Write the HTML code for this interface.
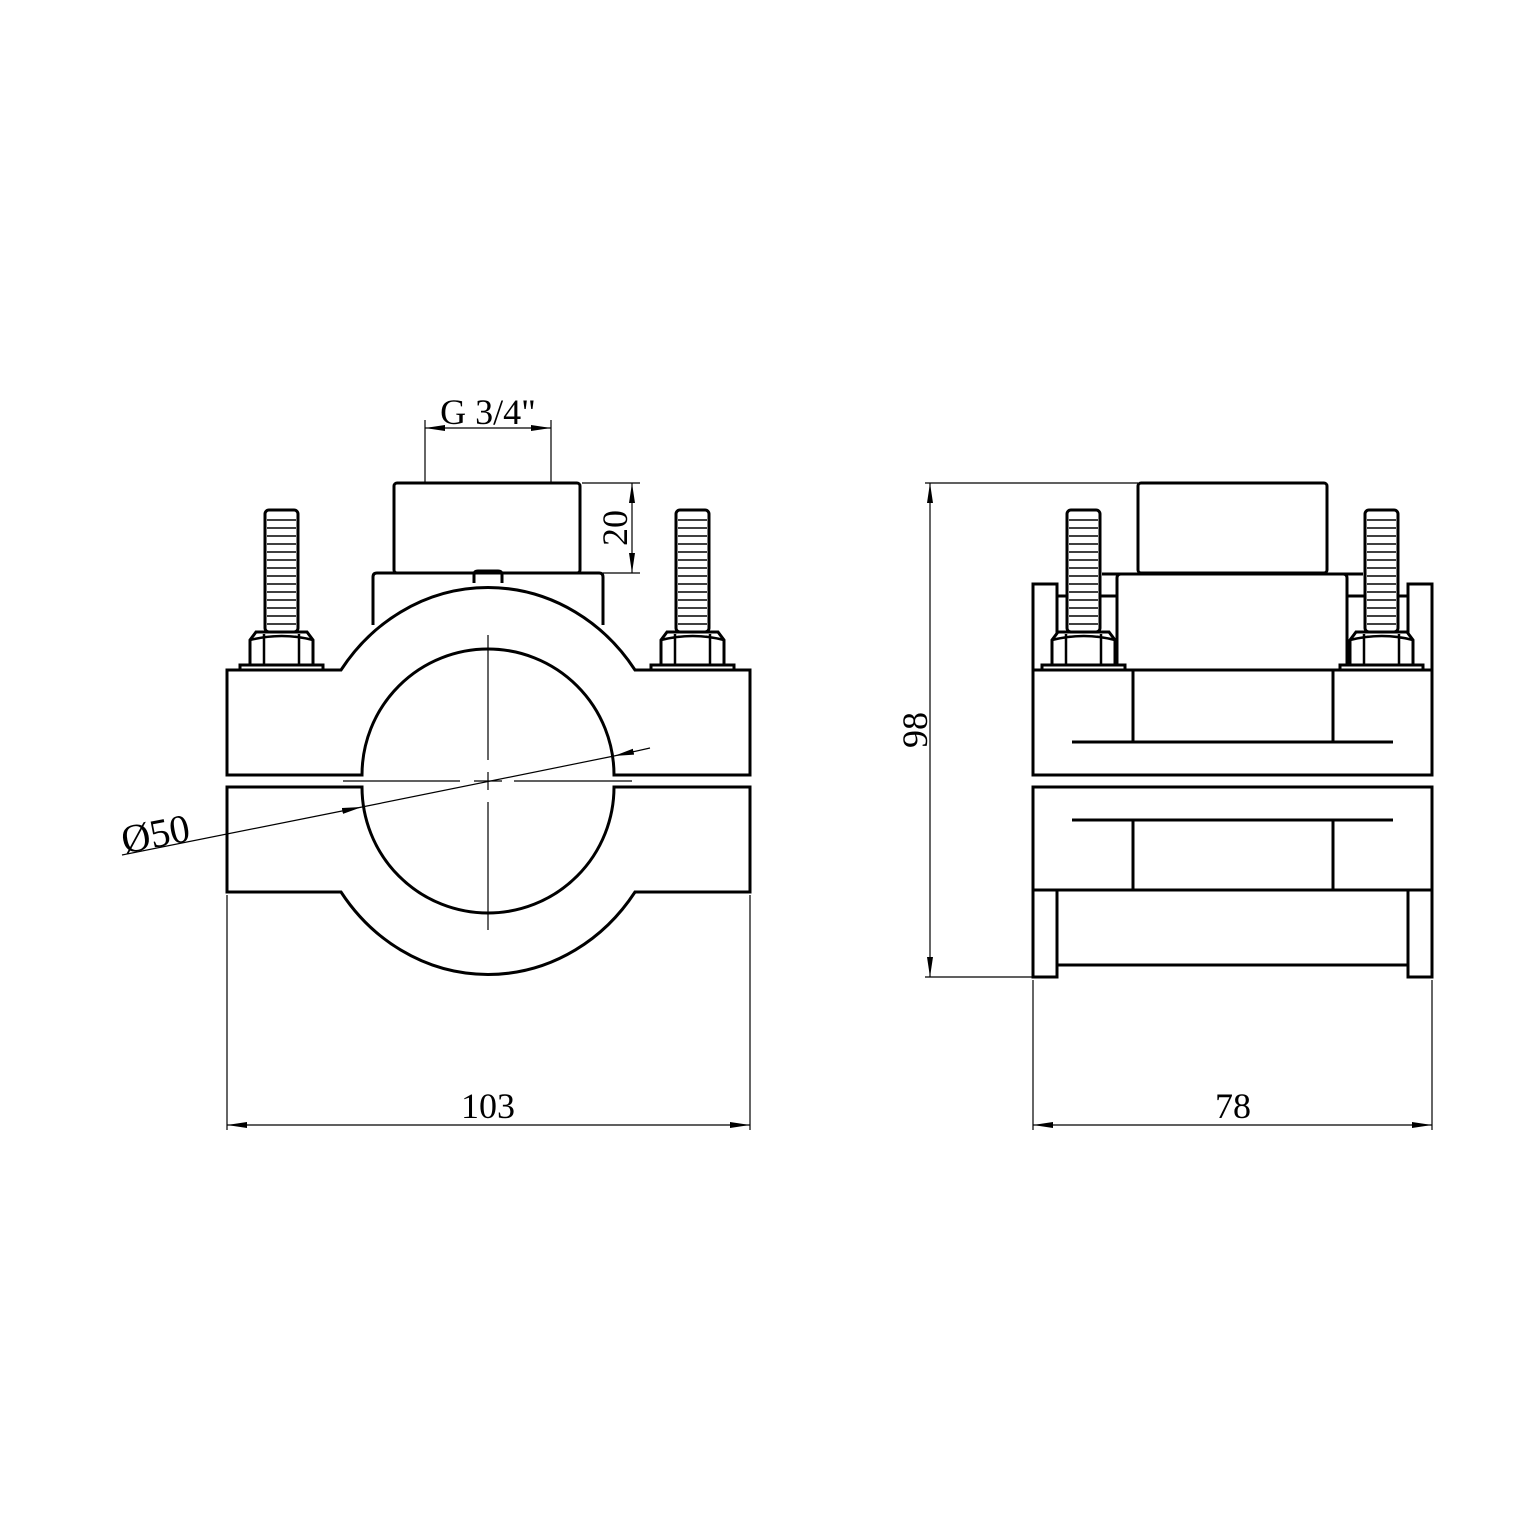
<!DOCTYPE html>
<html><head><style>body{margin:0;background:#fff}svg{display:block}</style></head><body>
<svg width="1515" height="1515" viewBox="0 0 1515 1515" xmlns="http://www.w3.org/2000/svg" font-family="Liberation Serif, serif">
<defs>
<marker id="a" viewBox="0 0 20 8" refX="20" refY="4" markerWidth="20" markerHeight="8" markerUnits="userSpaceOnUse" orient="auto"><path d="M0,1 L20,4 L0,7z" fill="#000"/></marker>
<g id="bolt">
<rect x="0" y="0" width="33" height="122" rx="4" fill="#fff" stroke="#000" stroke-width="3"/>
<path d="M2,10h29M2,18h29M2,26h29M2,34h29M2,42h29M2,50h29M2,58h29M2,66h29M2,74h29M2,82h29M2,90h29M2,98h29M2,106h29M2,114h29" stroke="#000" stroke-width="1.5"/>
<path d="M-15,155 V130 l6,-8 h51 l6,8 V155z" fill="#fff" stroke="#000" stroke-width="3"/>
<path d="M-1,155V124 M34,155V124 M-15,130 q32,-8 63,0" fill="none" stroke="#000" stroke-width="2.5"/>
<rect x="-25" y="155" width="83" height="5" fill="#fff" stroke="#000" stroke-width="3"/>
</g>
</defs>
<g fill="none" stroke="#000" stroke-width="3">
<rect x="394" y="483" width="186" height="90" rx="3"/>
<path d="M373,625 V577 q0,-4 4,-4 H599 q4,0 4,4 V625"/>
<path d="M474,583 V575 q0,-4 4,-4 h20 q4,0 4,4 V583"/>
<path d="M227,775 V670 H341 A180,195 0 0 1 635,670 H750 V775 H614 A126,126 0 0 0 362,775 Z" fill="#fff"/>
<path d="M227,787 V892 H341 A180,195 0 0 0 635,892 H750 V787 H614 A126,126 0 0 1 362,787 Z" fill="#fff"/>
</g>
<use href="#bolt" x="265" y="510"/>
<use href="#bolt" x="676" y="510"/>
<g stroke="#000" stroke-width="1.2" fill="none">
<path d="M488,635V760 M488,772V790 M488,802V930" />
<path d="M343,781H460 M474,781H502 M514,781H632"/>
<path d="M122,855 L362,807" marker-end="url(#a)"/>
<path d="M362,807 L614,756"/>
<path d="M650,748 L614,756" marker-end="url(#a)"/>
<path d="M425,483V420 M551,483V420"/>
<path d="M488,428 H551" marker-end="url(#a)"/>
<path d="M488,428 H425" marker-end="url(#a)"/>
<path d="M582,483H640 M603,573H640"/>
<path d="M632,528V483" marker-end="url(#a)"/>
<path d="M632,528V573" marker-end="url(#a)"/>
<path d="M227,895V1130 M750,895V1130"/>
<path d="M488,1125H227" marker-end="url(#a)"/>
<path d="M488,1125H750" marker-end="url(#a)"/>
<path d="M925,483H1138 M925,977H1033"/>
<path d="M930,730V483" marker-end="url(#a)"/>
<path d="M930,730V977" marker-end="url(#a)"/>
<path d="M1033,980V1130 M1432,980V1130"/>
<path d="M1233,1125H1033" marker-end="url(#a)"/>
<path d="M1233,1125H1432" marker-end="url(#a)"/>
</g>
<g fill="none" stroke="#000" stroke-width="3">
<rect x="1138" y="483" width="189" height="90" rx="3"/>
<path d="M1102,574H1138 M1327,574H1363"/>
<path d="M1057,596H1067 M1100,596H1117 M1347,596H1365 M1398,596H1408"/>
<rect x="1033" y="584" width="24" height="86" fill="#fff"/>
<rect x="1408" y="584" width="24" height="86" fill="#fff"/>
<path d="M1117,670 V578 q0,-4 4,-4 H1343 q4,0 4,4 V670" fill="#fff"/>
<rect x="1033" y="670" width="399" height="105" fill="#fff"/>
<path d="M1133,670V742 M1333,670V742"/>
<path d="M1072,742H1393"/>
<rect x="1033" y="787" width="399" height="103" fill="#fff"/>
<path d="M1072,820H1393 M1133,820V890 M1333,820V890 M1057,890H1133 M1333,890H1408"/>
<rect x="1033" y="890" width="24" height="87"/>
<rect x="1408" y="890" width="24" height="87"/>
<path d="M1057,965H1408"/>
</g>
<use href="#bolt" x="1067" y="510"/>
<use href="#bolt" x="1365" y="510"/>
<g font-size="36" fill="#000">
<text x="488" y="424" text-anchor="middle">G 3/4"</text>
<text x="488" y="1118" text-anchor="middle">103</text>
<text x="1233" y="1118" text-anchor="middle">78</text>
<text transform="translate(627,528) rotate(-90)" text-anchor="middle">20</text>
<text transform="translate(927,730) rotate(-90)" text-anchor="middle">98</text>
<text transform="translate(158,847) rotate(-11)" text-anchor="middle" font-size="40">Ø50</text>
</g>
</svg>
</body></html>
